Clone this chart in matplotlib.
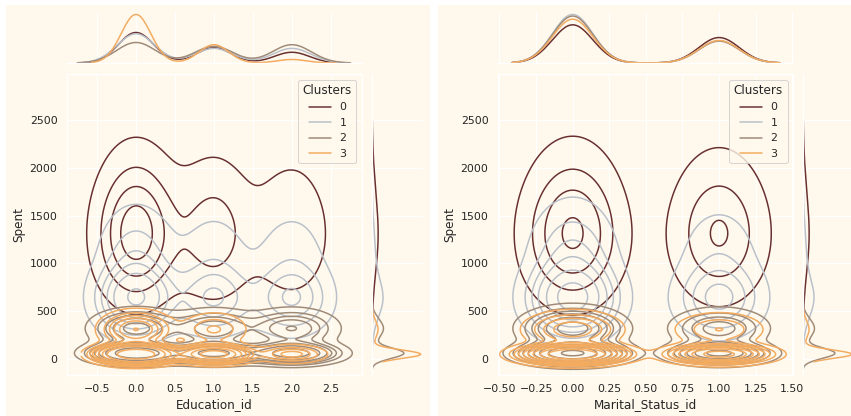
import numpy as np
import matplotlib
matplotlib.use("Agg")
import matplotlib.pyplot as plt
from matplotlib.patches import Rectangle
from matplotlib.lines import Line2D
import seaborn as sns

# ---- data ----
clusters = [0, 1, 2, 3]
colors = ["#682F2F", "#B9C0C9", "#9F8A78", "#F3AB60"]
cluster_share = [0.235, 0.26, 0.255, 0.245]

# spent profile of every cluster: (mean, sd, weight)
spent_mix = [
    [(1220, 400, 0.6), (1600, 480, 0.4)],
    [(620, 210, 0.6), (1010, 370, 0.4)],
    [(60, 60, 0.6), (320, 110, 0.4)],
    [(50, 50, 0.8), (310, 100, 0.2)],
]
# extent of the kde grids (joint / marginal), per cluster
joint_spent_range = [(-160, 3000), (-245, 2345), (-150, 900), (-120, 620)]
marg_spent_range = [(-63, 2897), (-150, 2250), (-120, 1100), (-28, 800)]

education_ids = [0, 1, 2]
education_share = [[0.54, 0.27, 0.19], [0.50, 0.25, 0.25],
                   [0.37, 0.30, 0.33], [0.69, 0.26, 0.05]]
education_bw = [0.32, 0.30, 0.31, 0.235]
education_bw_marg = [0.227, 0.243, 0.251, 0.19]

marital_ids = [0, 1]
marital_share = [[0.6, 0.4], [0.69, 0.31], [0.68, 0.32], [0.66, 0.34]]
marital_bw = [0.2, 0.17, 0.17, 0.17]
marital_bw_marg = [0.138, 0.138, 0.138, 0.138]

spent_ticks = [0, 500, 1000, 1500, 2000, 2500]
edu_ticks = [-0.5, 0.0, 0.5, 1.0, 1.5, 2.0, 2.5]
mar_ticks = [-0.5, -0.25, 0.0, 0.25, 0.5, 0.75, 1.0, 1.25, 1.5]

BG = "#FFF9ED"
W, H = 851, 416

sns.set_theme(style="darkgrid", rc={"axes.facecolor": BG})
plt.rcParams['font.family'] = ['DejaVu Sans']


def gauss(v, m, s):
    return np.exp(-0.5 * ((v - m) / s) ** 2) / (np.sqrt(2 * np.pi) * s)


def spent_density(y, k, scale=1.0):
    return sum(w * gauss(y, m, sd * scale) for m, sd, w in spent_mix[k])


def cat_density(x, ids, shares, bw):
    return sum(s * gauss(x, i, bw) for i, s in zip(ids, shares))


def px_rect(x0, y0, x1, y1):
    return [x0 / W, 1 - y1 / H, (x1 - x0) / W, (y1 - y0) / H]


def joint_panel(fig, left, ids, shares, bws, bws_marg, xlabel, xlim, xticks, fmt):
    ax = fig.add_axes(px_rect(left, 74, left + 295, 375))
    ax_top = fig.add_axes(px_rect(left, 12, left + 295, 63), sharex=ax)
    ax_right = fig.add_axes(px_rect(left + 305, 74, left + 356, 375), sharey=ax)

    grids = []
    for k in clusters:
        bw = bws[k]
        gx = np.linspace(min(ids) - 3 * bw, max(ids) + 3 * bw, 200)
        gy = np.linspace(*joint_spent_range[k], 200)
        X, Y = np.meshgrid(gx, gy)
        Z = cluster_share[k] * cat_density(X, ids, shares[k], bw) * spent_density(Y, k)
        grids.append((X, Y, Z))

    # common iso-proportion levels, the way seaborn does it
    vals = np.concatenate([g[2].ravel() for g in grids])
    sv = np.sort(vals)[::-1]
    cum = np.cumsum(sv) / sv.sum()
    iso = np.linspace(0.05, 1, 10)
    levels = np.take(sv, np.searchsorted(cum, 1 - iso), mode="clip")[:-1]

    for k, (X, Y, Z) in zip(clusters, grids):
        ax.contour(X, Y, Z, levels=levels, colors=colors[k], linewidths=1.5)

    for k in clusters:
        bw = bws_marg[k]
        gx = np.linspace(min(ids) - 3 * bw, max(ids) + 3 * bw, 200)
        ax_top.plot(gx, cluster_share[k] * cat_density(gx, ids, shares[k], bw),
                    color=colors[k], lw=1.5)
        gy = np.linspace(*marg_spent_range[k], 300)
        ax_right.plot(cluster_share[k] * spent_density(gy, k, 0.9), gy,
                      color=colors[k], lw=1.5)

    ax_top.set_ylim(0, ax_top.get_ylim()[1])
    ax_right.set_xlim(0, ax_right.get_xlim()[1])
    ax_top.yaxis.grid(False)
    ax_right.xaxis.grid(False)
    for a in (ax_top, ax_right):
        a.tick_params(labelbottom=False, labelleft=False, length=0)
        for s in ("top", "right"):
            a.spines[s].set_visible(False)
    ax_top.spines["left"].set_visible(False)
    ax_right.spines["bottom"].set_visible(False)

    ax.set_xlim(*xlim)
    ax.set_ylim(-167, 2981)
    ax.set_xticks(xticks)
    ax.set_xticklabels([fmt.format(t).replace("-", "\u2212") for t in xticks])
    ax.set_yticks(spent_ticks)
    ax.set_xlabel(xlabel, fontsize=12)
    ax.set_ylabel("Spent", fontsize=12)
    ax.tick_params(labelsize=11)

    handles = [Line2D([], [], color=c, lw=1.5) for c in colors]
    ax.legend(handles, [str(c) for c in clusters], title="Clusters",
              loc="upper right", fontsize=11, title_fontsize=12)
    return ax


fig = plt.figure(figsize=(W / 72, H / 72), dpi=72, facecolor="white")
fig.patches.append(Rectangle((6 / W, 0), 424 / W, 411 / H, transform=fig.transFigure,
                             facecolor=BG, edgecolor="none", zorder=-1))
fig.patches.append(Rectangle((438 / W, 0), 413 / W, 411 / H, transform=fig.transFigure,
                             facecolor=BG, edgecolor="none", zorder=-1))

joint_panel(fig, 67, education_ids, education_share, education_bw, education_bw_marg,
            "Education_id", (-0.885, 2.9), edu_ticks, "{:.1f}")
joint_panel(fig, 498, marital_ids, marital_share, marital_bw, marital_bw_marg,
            "Marital_Status_id", (-0.51, 1.505), mar_ticks, "{:.2f}")

fig.savefig("out.png", dpi=72, facecolor="white")
